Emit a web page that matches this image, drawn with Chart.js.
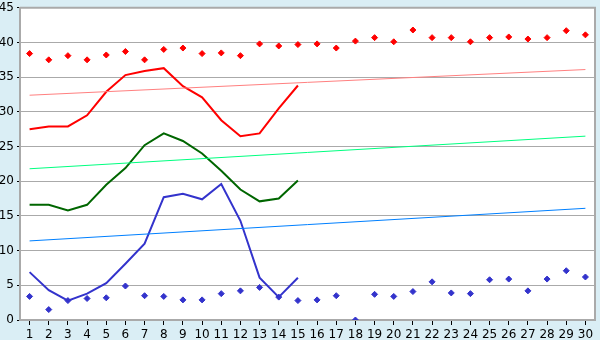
<!DOCTYPE html>
<html lang="en">
<head>
  <meta charset="UTF-8" />
  <title>Series chart</title>
  <script src="https://cdn.jsdelivr.net/npm/chart.js"></script>
  <style>
    html, body { margin: 0; padding: 0; background: #daeef5; }
    .wrap { width: 600px; height: 340px; }
  </style>
</head>
<body>
  <div class="wrap"><canvas id="chart"></canvas></div>

  <script>
    const labels = ['1','2','3','4','5','6','7','8','9','10','11','12','13','14','15',
                    '16','17','18','19','20','21','22','23','24','25','26','27','28','29','30'];

    const redLine   = [27.5, 27.9, 27.9, 29.5, 32.9, 35.3, 35.9, 36.3, 33.7, 32.1, 28.8, 26.5, 26.9, 30.5, 33.8];
    const greenLine = [16.6, 16.6, 15.8, 16.6, 19.5, 21.9, 25.2, 26.9, 25.8, 24.0, 21.5, 18.8, 17.1, 17.5, 20.1];
    const blueLine  = [6.9, 4.3, 2.8, 3.8, 5.3, 8.1, 11.0, 17.7, 18.2, 17.4, 19.6, 14.3, 6.1, 3.3, 6.1];

    const redDots  = [38.4, 37.5, 38.1, 37.5, 38.2, 38.7, 37.5, 39.0, 39.2, 38.4,
                      38.5, 38.1, 39.8, 39.5, 39.7, 39.8, 39.2, 40.2, 40.7, 40.1,
                      41.8, 40.7, 40.7, 40.1, 40.7, 40.8, 40.5, 40.7, 41.7, 41.1];
    const blueDots = [3.4, 1.5, 2.8, 3.1, 3.2, 4.9, 3.5, 3.4, 2.9, 2.9,
                      3.8, 4.2, 4.7, 3.3, 2.8, 2.9, 3.5, 0.0, 3.7, 3.4,
                      4.1, 5.5, 3.9, 3.8, 5.8, 5.9, 4.2, 5.9, 7.1, 6.2];

    // trend lines: value at first and last category
    const redTrend   = [32.4, 36.1];
    const greenTrend = [21.8, 26.5];
    const blueTrend  = [11.4, 16.1];

    const yTicks = [0, 5, 10, 15, 20, 25, 30, 35, 40, 45];

    function trend(ends) {
      return [{ x: labels[0], y: ends[0] }, { x: labels[labels.length - 1], y: ends[1] }];
    }

    const plotFrame = {
      id: 'plotFrame',
      beforeDraw(chart) {
        const { ctx, chartArea: a } = chart;
        ctx.save();
        ctx.fillStyle = '#ffffff';
        ctx.fillRect(a.left, a.top, a.right - a.left, a.bottom - a.top);
        ctx.restore();
      },
      afterDraw(chart) {
        const { ctx, chartArea: a } = chart;
        ctx.save();
        ctx.strokeStyle = '#aaaaaa';
        ctx.lineWidth = 2;
        ctx.beginPath();
        ctx.moveTo(a.left, a.top);
        ctx.lineTo(a.right, a.top);
        ctx.lineTo(a.right, a.bottom);
        ctx.stroke();
        ctx.restore();
      }
    };

    Chart.defaults.font.family = "'DejaVu Sans', Verdana, sans-serif";
    Chart.defaults.font.size = 12;
    Chart.defaults.color = '#000000';

    new Chart(document.getElementById('chart'), {
      type: 'line',
      data: {
        labels: labels,
        datasets: [
          { data: trend(redTrend), borderColor: '#ff8080', borderWidth: 1, pointRadius: 0 },
          { data: trend(greenTrend), borderColor: '#00ff80', borderWidth: 1, pointRadius: 0 },
          { data: trend(blueTrend), borderColor: '#0080ff', borderWidth: 1, pointRadius: 0 },
          { data: redLine, borderColor: '#ff0000', borderWidth: 2, pointRadius: 0 },
          { data: greenLine, borderColor: '#006600', borderWidth: 2, pointRadius: 0 },
          { data: blueLine, borderColor: '#3333cc', borderWidth: 2, pointRadius: 0 },
          { data: redDots, showLine: false, pointStyle: 'rectRot', pointRadius: 3,
            backgroundColor: '#ff0000', borderColor: '#ff0000', borderWidth: 1 },
          { data: blueDots, showLine: false, pointStyle: 'rectRot', pointRadius: 3,
            backgroundColor: '#3333cc', borderColor: '#3333cc', borderWidth: 1 }
        ]
      },
      options: {
        responsive: true,
        maintainAspectRatio: false,
        animation: false,
        tension: 0,
        layout: { padding: { top: 5, right: 5, left: 0, bottom: 0 } },
        plugins: { legend: { display: false }, tooltip: { enabled: false } },
        scales: {
          x: {
            offset: true,
            grid: { drawOnChartArea: false, drawTicks: true, tickLength: 5, color: '#000000', offset: false },
            border: { color: '#aaaaaa', width: 2 },
            ticks: { maxRotation: 0, autoSkip: false, padding: 3 },
            afterFit(scale) { scale.height = 20; }
          },
          y: {
            min: 0,
            max: 45,
            afterBuildTicks(scale) { scale.ticks = yTicks.map(v => ({ value: v })); },
            grid: { color: '#aaaaaa', lineWidth: 1, tickLength: 3, tickColor: '#000000' },
            border: { color: '#aaaaaa', width: 2 },
            ticks: { padding: 3, font: { size: 12, lineHeight: 0.8 } },
            afterFit(scale) { scale.width = 20; }
          }
        }
      },
      plugins: [plotFrame]
    });
  </script>
</body>
</html>
